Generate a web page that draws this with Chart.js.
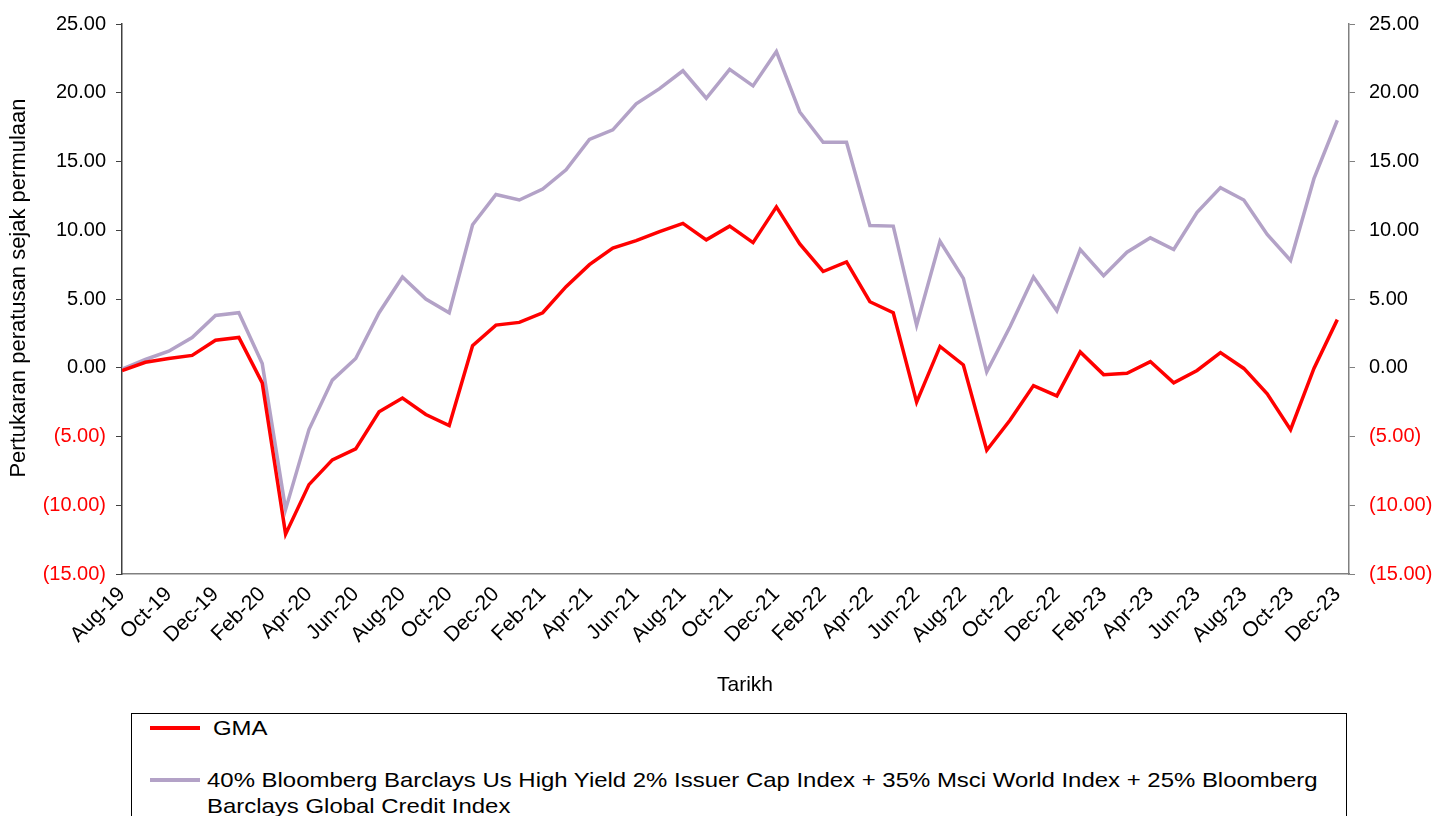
<!DOCTYPE html>
<html>
<head>
<meta charset="utf-8">
<script src="https://cdn.jsdelivr.net/npm/chart.js@4.4.0/dist/chart.umd.min.js"></script>
<style>
  body { margin: 0; background: #fff; width: 1435px; height: 816px; overflow: hidden; position: relative;
         font-family: "Liberation Sans", Arial, sans-serif; }
  #wrap { position: absolute; left: 0; top: 0; width: 1435px; height: 705px; }
  #legend { position: absolute; left: 131px; top: 713px; width: 1216px; height: 130px;
            border: 1px solid #000; box-sizing: border-box; }
  .swatch { position: absolute; left: 18px; width: 50px; height: 4px; }
  .label { position: absolute; font-size: 21px; line-height: 26px; color: #000;
           transform: scaleX(1.14); transform-origin: left top; }
</style>
</head>
<body>
<div id="wrap"><canvas id="perfChart"></canvas></div>
<div id="legend"></div>
<script>
const months = ['Aug-19','Sep-19','Oct-19','Nov-19','Dec-19','Jan-20','Feb-20','Mar-20','Apr-20','May-20',
  'Jun-20','Jul-20','Aug-20','Sep-20','Oct-20','Nov-20','Dec-20','Jan-21','Feb-21','Mar-21',
  'Apr-21','May-21','Jun-21','Jul-21','Aug-21','Sep-21','Oct-21','Nov-21','Dec-21','Jan-22',
  'Feb-22','Mar-22','Apr-22','May-22','Jun-22','Jul-22','Aug-22','Sep-22','Oct-22','Nov-22',
  'Dec-22','Jan-23','Feb-23','Mar-23','Apr-23','May-23','Jun-23','Jul-23','Aug-23','Sep-23',
  'Oct-23','Nov-23','Dec-23'];

const gma = [-0.2, 0.4, 0.67, 0.9, 2.0, 2.2, -1.1, -12.1, -8.5, -6.7,
  -5.9, -3.2, -2.2, -3.4, -4.2, 1.6, 3.1, 3.3, 4.0, 5.9,
  7.5, 8.7, 9.25, 9.9, 10.5, 9.3, 10.3, 9.1, 11.7, 9.0,
  7.0, 7.7, 4.8, 4.0, -2.5, 1.55, 0.2, -6.0, -3.8, -1.3,
  -2.05, 1.15, -0.5, -0.4, 0.45, -1.1, -0.2, 1.1, -0.05, -1.9,
  -4.5, -0.05, 3.5];

const benchmark = [-0.1, 0.6, 1.2, 2.2, 3.8, 4.0, 0.3, -10.3, -4.5, -0.9,
  0.67, 4.0, 6.6, 5.0, 4.0, 10.4, 12.6, 12.2, 13.0, 14.4,
  16.6, 17.3, 19.2, 20.3, 21.6, 19.6, 21.7, 20.5, 23.0, 18.6,
  16.4, 16.4, 10.35, 10.3, 3.1, 9.2, 6.5, -0.3, 3.0, 6.6,
  4.15, 8.6, 6.7, 8.4, 9.45, 8.6, 11.3, 13.1, 12.2, 9.7,
  7.8, 13.75, 18.0];

const seriesNames = ['GMA',
  '40% Bloomberg Barclays Us High Yield 2% Issuer Cap Index + 35% Msci World Index + 25% Bloomberg Barclays Global Credit Index'];
const seriesColors = ['#ff0000', '#b3a2c7'];

const yTicks = [-15, -10, -5, 0, 5, 10, 15, 20, 25];
const xTitle = 'Tarikh';
const yTitle = 'Pertukaran peratusan sejak permulaan';

function fmt(v) {
  return v < 0 ? '(' + Math.abs(v).toFixed(2) + ')' : v.toFixed(2);
}
const tickColor = (ctx) => (ctx.tick && ctx.tick.value < 0 ? '#ff0000' : '#000');
const FONT = '"Liberation Sans", Arial, sans-serif';
const tickFont = { family: FONT, size: 20, lineHeight: 1 };

const toPoints = (arr) => arr.map((v, i) => ({ x: i, y: v }));

// axis titles drawn by hand so they sit where the original has them
const axisTitles = {
  id: 'axisTitles',
  afterDraw(chart) {
    const c = chart.ctx;
    c.save();
    c.fillStyle = '#000';
    c.textAlign = 'center';
    c.textBaseline = 'middle';
    c.font = '21px ' + FONT;
    c.fillText(xTitle, 745, 685);
    c.translate(19, 288);
    c.rotate(-Math.PI / 2);
    c.font = '22px ' + FONT;
    c.fillText(yTitle, 0, 0);
    c.restore();
  }
};

const ctx = document.getElementById('perfChart').getContext('2d');
new Chart(ctx, {
  type: 'line',
  data: {
    datasets: [
      { label: seriesNames[0], data: toPoints(gma), borderColor: seriesColors[0], borderWidth: 3.5,
        pointRadius: 0, tension: 0, yAxisID: 'y', order: 0 },
      { label: seriesNames[1], data: toPoints(benchmark), borderColor: seriesColors[1], borderWidth: 3.5,
        pointRadius: 0, tension: 0, yAxisID: 'y', order: 1 }
    ]
  },
  options: {
    responsive: true,
    maintainAspectRatio: false,
    animation: false,
    layout: { padding: { top: 22, left: 0, right: 0, bottom: 0 } },
    plugins: { legend: { display: false }, tooltip: { enabled: false } },
    scales: {
      x: {
        type: 'linear', min: 0, max: 52.5,
        afterBuildTicks: (scale) => {
          scale.ticks = months.map((m, i) => ({ value: i })).filter(t => t.value % 2 === 0);
        },
        afterFit: (scale) => { scale.height = 131; },
        ticks: { autoSkip: false, minRotation: 45, maxRotation: 45, padding: 8, color: '#000',
                 font: { family: FONT, size: 21 },
                 callback: (v) => months[v] },
        grid: { display: false, drawTicks: false },
        border: { display: true, color: '#808080', width: 1.5 }
      },
      y: {
        position: 'left', min: -15, max: 25,
        afterBuildTicks: (scale) => { scale.ticks = yTicks.map(v => ({ value: v })); },
        afterFit: (scale) => { scale.width = 122; },
        ticks: { color: tickColor, font: tickFont, padding: 10, callback: fmt },
        grid: { drawOnChartArea: false, drawTicks: true, tickLength: 6, color: '#404040' },
        border: { display: true, color: '#404040', width: 1.5 }
      },
      y2: {
        position: 'right', min: -15, max: 25,
        afterBuildTicks: (scale) => { scale.ticks = yTicks.map(v => ({ value: v })); },
        afterFit: (scale) => { scale.width = 86; },
        ticks: { color: tickColor, font: tickFont, padding: 14, callback: fmt },
        grid: { drawOnChartArea: false, drawTicks: true, tickLength: 6, color: '#808080' },
        border: { display: true, color: '#808080', width: 1.5 }
      }
    }
  },
  plugins: [axisTitles]
});

// legend box below the chart
const legend = document.getElementById('legend');
const legendRows = [
  { swatchTop: 12, textLeft: 81, textWidth: 960 },
  { swatchTop: 64, textLeft: 75, textWidth: 985 }
];
seriesNames.forEach((name, i) => {
  const row = legendRows[i];
  const sw = document.createElement('div');
  sw.className = 'swatch';
  sw.style.top = row.swatchTop + 'px';
  sw.style.background = seriesColors[i];
  legend.appendChild(sw);
  const lb = document.createElement('div');
  lb.className = 'label';
  lb.style.left = row.textLeft + 'px';
  lb.style.top = (row.swatchTop + 2 - 13) + 'px';
  lb.style.width = row.textWidth + 'px';
  lb.textContent = name;
  legend.appendChild(lb);
});
</script>
</body>
</html>
